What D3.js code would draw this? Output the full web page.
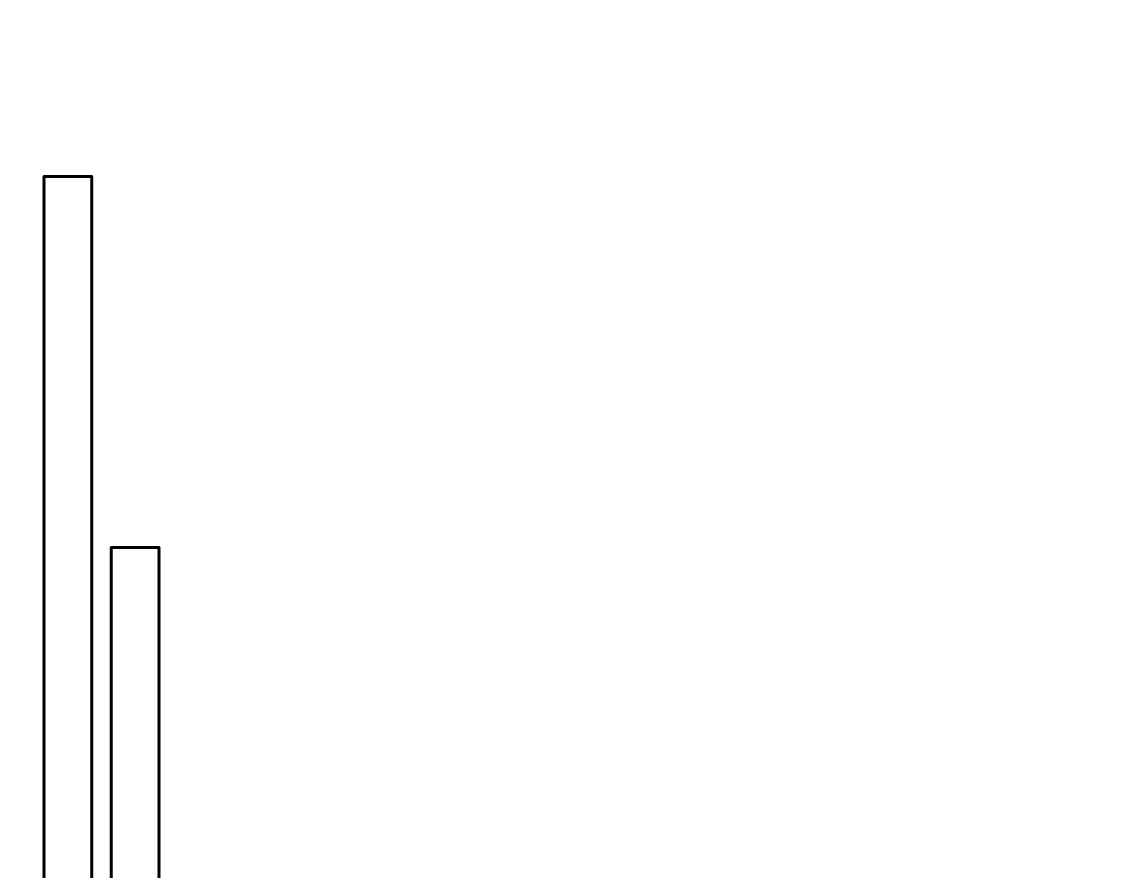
<!DOCTYPE html>
<html>
<head>
<meta charset="utf-8">
<script src="https://cdn.jsdelivr.net/npm/d3@7"></script>
<style>
    html, body { margin: 0; padding: 0; background: #fff; overflow: hidden; }
</style>
</head>
<body>
<script>
const categories = ["A", "B"];
const values = [10, 5];

function init() {
    const dimensions = {
        width: 1125,
        height: 878,
        barLeft: 44,
        barRight: 159,
        baseline: 918.5,
        top: 176.5,
    }

    const svg = d3.select("body").append("svg")
        .attr("width", dimensions.width)
        .attr("height", dimensions.height);

    barChart(svg, dimensions);
}

function barChart(svg, dimensions) {
    const dataset = categories.map((c, i) => ({ name: c, value: values[i] }));

    const xScale = d3.scaleBand()
        .domain(categories)
        .range([dimensions.barLeft, dimensions.barRight])
        .paddingInner(0.29)
        .paddingOuter(0);

    const yScale = d3.scaleLinear()
        .domain([0, d3.max(values)])
        .range([dimensions.baseline, dimensions.top]);

    svg.append("g")
        .selectAll("rect")
        .data(dataset)
        .join("rect")
        .attr("x", d => xScale(d.name))
        .attr("y", d => yScale(d.value))
        .attr("width", xScale.bandwidth())
        .attr("height", d => yScale(0) - yScale(d.value))
        .attr("fill", "white")
        .attr("stroke", "black")
        .attr("stroke-width", 3)
        .attr("stroke-linejoin", "round");
}

document.addEventListener('DOMContentLoaded', init)
</script>
</body>
</html>
